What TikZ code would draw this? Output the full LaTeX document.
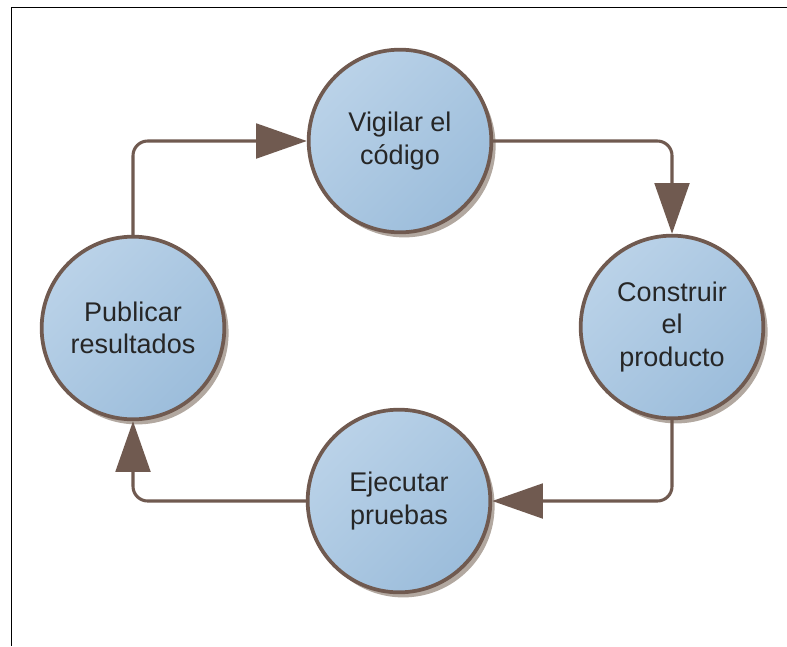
\documentclass[tikz,border=0pt]{standalone}
\usepackage{fontspec}
\setmainfont{Liberation Sans}
\usetikzlibrary{arrows.meta,shadows}

\definecolor{edgebrown}{HTML}{705A50}
\definecolor{fillhi}{HTML}{BAD2E8}
\definecolor{filllo}{HTML}{9CBDDB}
\definecolor{shadowgray}{HTML}{B2A8A0}
\definecolor{textdark}{HTML}{262626}

\tikzset{
  stage/.style={
    circle, draw=edgebrown, line width=2.8pt,
    minimum size=137pt, inner sep=0pt,
    top color=fillhi, bottom color=filllo, shading angle=45,
    align=center, text=textdark,
    font=\fontsize{20.25}{24.4}\selectfont,
    drop shadow={shadow xshift=3.2pt, shadow yshift=-3.8pt,
                 fill=shadowgray, opacity=1}
  },
  conn/.style={
    draw=edgebrown, line width=2.3pt, rounded corners=11pt,
    -{Triangle[length=38pt, width=26pt, fill=edgebrown]}
  }
}

\begin{document}
\begin{tikzpicture}[x=0.75pt, y=-0.75pt]
  \useasboundingbox (0,0) rectangle (787,646);
  \fill[white] (0,0) rectangle (787,646);

  % frame edges
  \draw[line width=1.1pt, black] (787,7.5) -- (11.5,7.5) -- (11.5,646);

  % the four stages of the cycle
  \node[stage] (vig) at (400,141) {Vigilar el\\código};
  \node[stage] (con) at (672,327) {Construir\\el\\producto};
  \node[stage] (eje) at (399,501) {Ejecutar\\pruebas};
  \node[stage] (pub) at (133,328) {Publicar\\resultados};

  % connectors between the stages
  \draw[conn] (pub.north) |- (vig.west);
  \draw[conn] (vig.east) -| (con.north);
  \draw[conn] (con.south) |- (eje.east);
  \draw[conn] (eje.west) -| (pub.south);
\end{tikzpicture}
\end{document}
